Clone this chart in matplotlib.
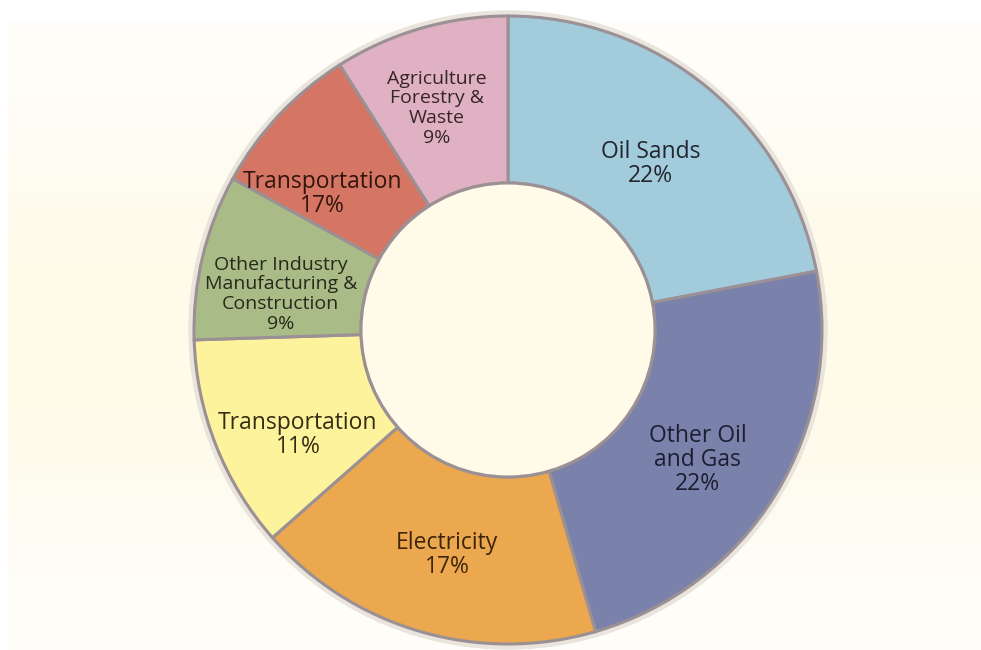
import matplotlib.pyplot as plt
import numpy as np
from matplotlib.patches import Circle

# slice data, clockwise from 12 o'clock
sectors = [
    "Oil Sands",
    "Other Oil\nand Gas",
    "Electricity",
    "Transportation",
    "Other Industry\nManufacturing &\nConstruction",
    "Transportation",
    "Agriculture\nForestry &\nWaste",
]
shares = [22, 23.5, 18, 11, 8.5, 8, 9]  # wedge sizes as drawn
pct_labels = ["22%", "22%", "17%", "11%", "9%", "17%", "9%"]  # as printed

colors = ["#a2cbdc", "#7a82ab", "#eba84f", "#fdf39d", "#a9bb87", "#d47663", "#e0b1c2"]
text_colors = ["#22262f", "#1c1e30", "#3e240a", "#332d12", "#262a1a", "#33140e", "#36252b"]
font_sizes = [16.5, 16.5, 16.5, 16.5, 14, 16.5, 14]
line_sp = [1.0, 1.0, 1.0, 1.0, 1.12, 1.0, 1.12]
# label placement: radius and angular nudge (deg, clockwise) from wedge middle
lab_r = [219, 230, 233, 235, 230, 230, 233]
lab_dt = [1, 3, -1, -5, -4.5, -7, -1.5]

plt.rcParams["font.family"] = ["Open Sans", "DejaVu Sans"]

W, H = 981, 650
fig = plt.figure(figsize=(W / 100, H / 100), dpi=100)
ax = fig.add_axes([0, 0, 1, 1])

# soft cream panel behind the chart
g = np.linspace(0, 1, 256)
grad = np.exp(-((g - 0.5) / 0.35) ** 2)
c_edge = np.array([254, 254, 252]) / 255
c_mid = np.array([255, 251, 232]) / 255
img = c_edge[None, :] + (c_mid - c_edge)[None, :] * grad[:, None]
img = np.repeat(img[:, None, :], 2, axis=1)
ax.imshow(img, extent=[8, W, 0, H - 22], aspect="auto", zorder=0)

cx, cy = 508, H - 330
r_out, r_in = 314, 147

ax.add_patch(Circle((cx, cy), r_out + 5, color="#e9e4dc", zorder=1))

wedges, _ = ax.pie(
    shares,
    colors=colors,
    startangle=90,
    counterclock=False,
    center=(cx, cy),
    radius=r_out,
    frame=True,
    wedgeprops=dict(width=r_out - r_in, edgecolor="#9b9094", linewidth=2.2),
)
for w in wedges:
    w.set_zorder(2)
ax.set_xlim(0, W)
ax.set_ylim(0, H)
ax.set_aspect("equal")
ax.axis("off")

ax.add_patch(Circle((cx, cy), r_in, facecolor="#fffbe8", edgecolor="#9b9094",
                    linewidth=2.2, zorder=3))

for w, name, pct, tc, fs, ls, rr, dt in zip(wedges, sectors, pct_labels, text_colors,
                                            font_sizes, line_sp, lab_r, lab_dt):
    ang = np.deg2rad((w.theta1 + w.theta2) / 2 - dt)
    x = cx + rr * np.cos(ang)
    y = cy + rr * np.sin(ang)
    ax.text(x, y, name + "\n" + pct, ha="center", va="center", color=tc,
            fontsize=fs, fontweight="medium", linespacing=ls, zorder=4)

fig.savefig("out.png", dpi=100, facecolor="white")
